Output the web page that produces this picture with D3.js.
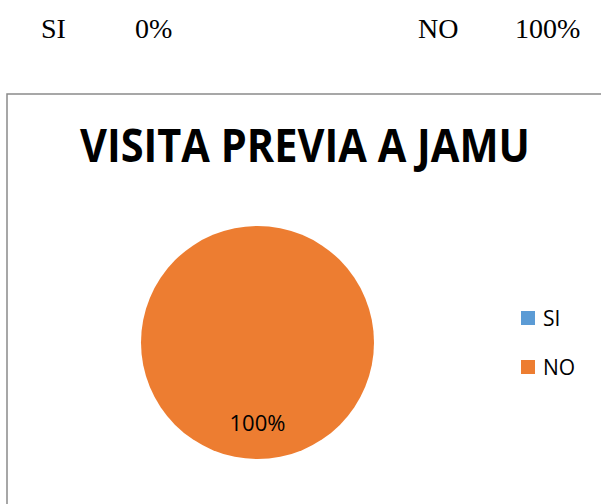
<!DOCTYPE html>
<html>
<head>
<meta charset="utf-8">
<script src="https://cdn.jsdelivr.net/npm/d3@7"></script>
<style>
  body { margin: 0; background: #fff; }
  svg { display: block; }
</style>
</head>
<body>
<div id="chart"></div>
<script>
// data
var categories = ["SI", "NO"];
var values = [0, 100];
var colours = ["#5B9BD5", "#ED7D31"];
var title = "VISITA PREVIA A JAMU";

var width = 601, height = 504;

var svg = d3.select("#chart").append("svg")
  .attr("width", width)
  .attr("height", height);

var total = d3.sum(values);
var pct = d3.format(".0%");

// summary line above the chart (document text)
var topX = d3.scalePoint().domain(categories).range([41, 418]);
var summary = svg.selectAll("g.summary")
  .data(categories)
  .enter()
  .append("g")
  .attr("class", "summary")
  .attr("transform", d => `translate(${topX(d)}, 38)`)
  .style("font-family", "'Liberation Serif', 'Times New Roman', serif")
  .style("font-size", "28px")
  .style("fill", "#000");
summary.append("text").text(d => d);
summary.append("text")
  .attr("x", (d, i) => i == 0 ? 94 : 97)
  .text((d, i) => pct(values[i] / total));

// chart frame
svg.append("rect")
  .attr("x", 7)
  .attr("y", 94)
  .attr("width", width + 10)
  .attr("height", height)
  .style("fill", "none")
  .style("stroke", "#8a8a8a")
  .style("stroke-width", 1.5);

svg.append("text")
  .attr("x", 305)
  .attr("y", 162)
  .attr("text-anchor", "middle")
  .attr("textLength", 450)
  .attr("lengthAdjust", "spacingAndGlyphs")
  .style("font-family", "'Open Sans', sans-serif")
  .style("font-weight", "bold")
  .style("font-size", "47px")
  .style("fill", "#000")
  .text(title);

// pie
var cx = 257.5, cy = 342.5, r = 116.5;
var pie = d3.pie().sort(null).value(d => d);
var arcs = pie(values);
var arc = d3.arc().innerRadius(0).outerRadius(r);
var labelArc = d3.arc().innerRadius(r * 0.69).outerRadius(r * 0.69);

var g = svg.append("g").attr("transform", `translate(${cx}, ${cy})`);

g.selectAll("path.slice")
  .data(arcs)
  .enter()
  .append("path")
  .attr("class", "slice")
  .attr("d", arc)
  .style("fill", (d, i) => colours[i]);

g.selectAll("text.pct")
  .data(arcs.filter(d => d.value > 0))
  .enter()
  .append("text")
  .attr("class", "pct")
  .attr("x", d => labelArc.centroid(d)[0])
  .attr("y", d => labelArc.centroid(d)[1])
  .attr("dy", "0.36em")
  .attr("text-anchor", "middle")
  .style("font-family", "'Open Sans', sans-serif")
  .style("font-size", "22px")
  .style("fill", "#000")
  .text(d => pct(d.value / total));

// legend
var legY = d3.scalePoint().domain(categories).range([318, 367]);
var leg = svg.selectAll("g.leg")
  .data(categories)
  .enter()
  .append("g")
  .attr("class", "leg")
  .attr("transform", d => `translate(521, ${legY(d)})`);
leg.append("rect")
  .attr("x", 0)
  .attr("y", -7)
  .attr("width", 14)
  .attr("height", 14)
  .style("fill", (d, i) => colours[i]);
leg.append("text")
  .attr("x", 22)
  .attr("dy", "0.36em")
  .style("font-family", "'Open Sans', sans-serif")
  .style("font-size", "21px")
  .style("fill", "#000")
  .text(d => d);
</script>
</body>
</html>
